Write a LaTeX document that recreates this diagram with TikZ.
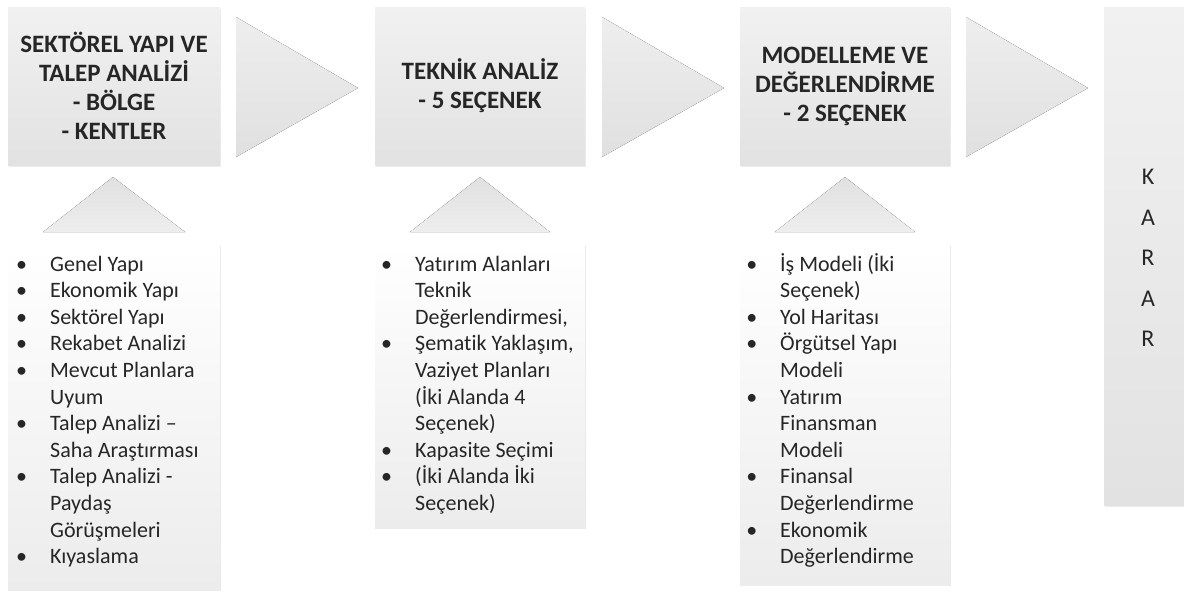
\documentclass[tikz,border=0pt]{standalone}
\usepackage{fontspec}
\setmainfont{Carlito}[Ligatures={NoCommon}]
\usetikzlibrary{shadows}
\definecolor{txt}{HTML}{262626}
\definecolor{hbtop}{HTML}{F1F1F1}
\definecolor{hbbot}{HTML}{E2E2E2}
\definecolor{chtop}{HTML}{EEEEEE}
\definecolor{chbot}{HTML}{E0E0E0}
\definecolor{lbbot}{HTML}{ECECEC}
\newcommand\bul{\llap{•\hspace{23pt}}}
\tikzset{
  headbox/.style={top color=hbtop, bottom color=hbbot, minimum width=210pt, minimum height=158pt,
    inner sep=0pt, font=\fontsize{25}{29}\selectfont\bfseries, text=txt, align=center,
    drop shadow={shadow xshift=0.6pt, shadow yshift=-1.5pt, opacity=0.15}},
  listbox/.style={top color=white, bottom color=lbbot, minimum width=210pt, inner sep=0pt,
    anchor=north west, drop shadow={shadow xshift=1.2pt, shadow yshift=-1.2pt, opacity=0.18}},
  chevshape/.style={top color=chtop, bottom color=chbot, draw=none},
  upshape/.style={top color=chbot, bottom color=chtop, draw=none},
  itemtxt/.style={anchor=base west, inner sep=0pt, font=\fontsize{22}{26.6}\selectfont, text=txt},
}
\begin{document}
\begin{tikzpicture}[x=1pt,y=-1pt]
\useasboundingbox (0,0) rectangle (1184,595);
% top boxes
\node[headbox, minimum width=212pt] (h1) at (114,86) {SEKTÖREL YAPI VE\\TALEP ANALİZİ\\- BÖLGE\\- KENTLER};
\node[headbox] (h2) at (480,86) {TEKNİK ANALİZ\\- 5 SEÇENEK};
\node[headbox] (h3) at (845,86) {MODELLEME VE\\DEĞERLENDİRME\\- 2 SEÇENEK};
\node[top color=hbtop, bottom color=hbbot, minimum width=84pt, minimum height=498pt, inner sep=0pt,
  drop shadow={shadow xshift=0.6pt, shadow yshift=-1.5pt, opacity=0.15},
  anchor=north west] (karar) at (1104,7) {};
\node[text=txt, font=\fontsize{24}{40.5}\selectfont, align=center, inner sep=0pt] (kt) at (1148,258) {K\\A\\R\\A\\R};
% chevrons
\fill[chevshape] (236,17) -- (358,88) -- (236,157) -- cycle;
\fill[chevshape] (602,17) -- (724,88) -- (602,157) -- cycle;
\fill[chevshape] (966,17) -- (1088,88) -- (966,157) -- cycle;
% up triangles
\fill[upshape] (113,177) -- (185,232) -- (43,232) -- cycle;
\fill[upshape] (480,177) -- (550,232) -- (410,232) -- cycle;
\fill[upshape] (845,177) -- (915,232) -- (775,232) -- cycle;
% list boxes
\node[listbox, minimum width=212pt, minimum height=345pt] (l1) at (8,245) {};
\node[listbox, minimum height=283pt] (l2) at (375,245) {};
\node[listbox, minimum height=340pt] (l3) at (740,245) {};
% list texts
\foreach \t [count=\i] in {{\bul Genel Yapı},{\bul Ekonomik Yapı},{\bul Sektörel Yapı},{\bul Rekabet Analizi},{\bul Mevcut Planlara},{Uyum},{\bul Talep Analizi –},{Saha Araştırması},{\bul Talep Analizi -},{Paydaş},{Görüşmeleri},{\bul Kıyaslama}}
  \node[itemtxt] (la-\i) at (50,{271+26.6*(\i-1)}) {\t};
\foreach \t [count=\i] in {{\bul Yatırım Alanları},{Teknik},{Değerlendirmesi,},{\bul Şematik Yaklaşım,},{Vaziyet Planları},{(İki Alanda 4},{Seçenek)},{\bul Kapasite Seçimi},{\bul (İki Alanda İki},{Seçenek)}}
  \node[itemtxt] (lb-\i) at (415,{271+26.6*(\i-1)}) {\t};
\foreach \t [count=\i] in {{\bul İş Modeli (İki},{Seçenek)},{\bul Yol Haritası},{\bul Örgütsel Yapı},{Modeli},{\bul Yatırım},{Finansman},{Modeli},{\bul Finansal},{Değerlendirme},{\bul Ekonomik},{Değerlendirme}}
  \node[itemtxt] (lc-\i) at (780,{271+26.6*(\i-1)}) {\t};
\end{tikzpicture}
\end{document}
